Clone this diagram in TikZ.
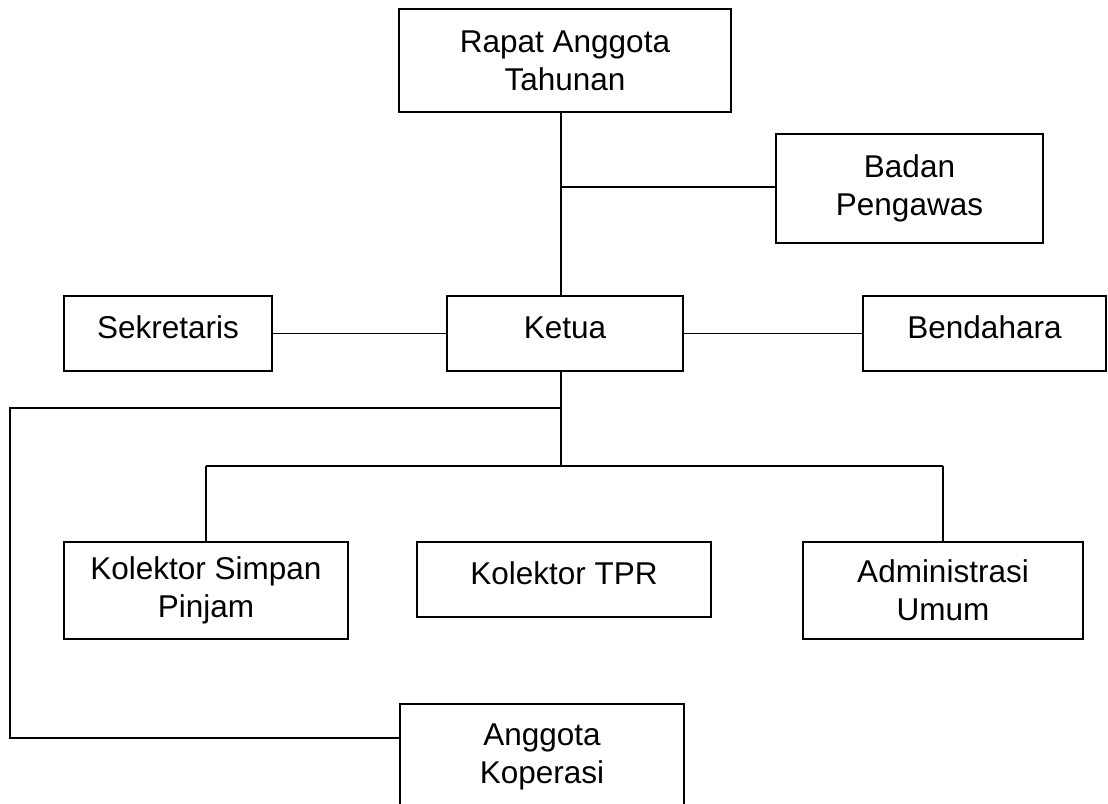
\documentclass[tikz,border=0pt]{standalone}
\usepackage{fontspec}
\setmainfont{Liberation Sans}
\usetikzlibrary{positioning}

\begin{document}
\begin{tikzpicture}[x=1pt,y=-1pt,line width=1.6pt,
    org box/.style={draw,rectangle,inner sep=0pt,align=center,font=\fontsize{31.5}{38}\selectfont},
    one line/.style={org box,text height=22.5pt,text depth=12.5pt}]
    \useasboundingbox (0,0) rectangle (1108,803);
    \clip (0,0) rectangle (1108,803);

    \node[org box, minimum width=332pt, minimum height=103pt] (rat) at (565,60.5) {Rapat Anggota\\Tahunan};
    \node[org box, minimum width=267pt, minimum height=109pt] (bp) at (909.5,188.5) {Badan\\Pengawas};

    \node[one line, minimum width=236pt, minimum height=75pt] (ketua) at (565,333.5) {Ketua};
    \node[one line, minimum width=208pt, minimum height=75pt] (sek) at (168,333.5) {Sekretaris};
    \node[one line, minimum width=243pt, minimum height=75pt] (bend) at (984.5,333.5) {Bendahara};

    \node[org box, minimum width=284pt, minimum height=97pt] (ksp) at (206,590.5) {Kolektor Simpan\\Pinjam};
    \node[one line, minimum width=294pt, minimum height=75pt] (tpr) at (564,579.5) {Kolektor TPR};
    \node[org box, minimum width=280pt, minimum height=97pt] (adm) at (943,590.5) {Administrasi\\Umum};

    \node[org box, minimum width=284pt, minimum height=106pt] (ang) at (542,757) {Anggota\\Koperasi};

    \coordinate (j1) at (561,187);
    \coordinate (j2) at (561,408);
    \coordinate (j3) at (561,466);
    \coordinate (c1) at (10,408);
    \coordinate (c2) at (10,738);

    \draw (rat.south -| j1) -- (ketua.north -| j1);
    \draw (j1) -- (j1 -| bp.west);
    \draw (sek) -- (ketua) -- (bend);
    \draw (ketua.south -| j1) -- (j3);
    \draw (ksp.north |- j3) -- (adm.north |- j3);
    \draw (ksp.north |- j3) -- (ksp.north);
    \draw (adm.north |- j3) -- (adm.north);
    \draw (j2) -- (c1) -- (c2) -- (c2 -| ang.west);
\end{tikzpicture}
\end{document}
